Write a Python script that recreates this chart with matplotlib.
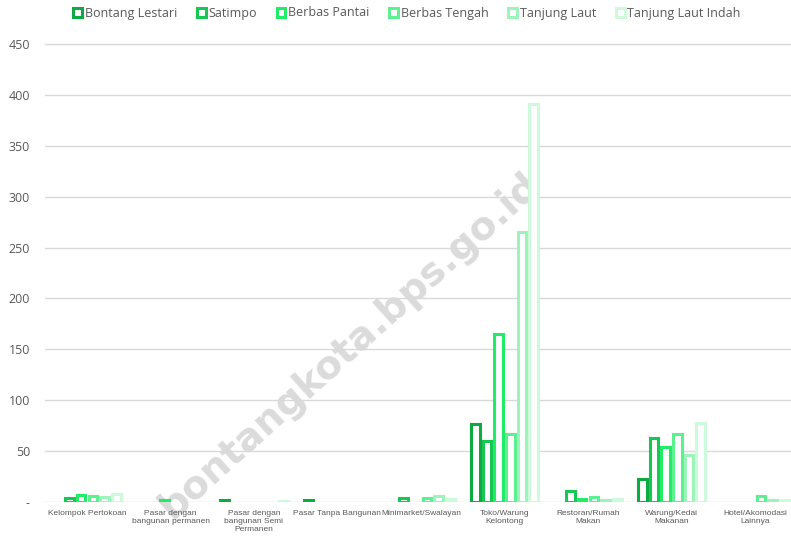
import numpy as np
import matplotlib
matplotlib.use('Agg')
import matplotlib.pyplot as plt
from matplotlib.patches import Patch
from matplotlib.ticker import FuncFormatter

# Data
categories = ['Kelompok Pertokoan', 'Pasar dengan\nbangunan permanen',
              'Pasar dengan\nbangunan Semi\nPermanen', 'Pasar Tanpa Bangunan',
              'Minimarket/Swalayan', 'Toko/Warung\nKelontong',
              'Restoran/Rumah\nMakan', 'Warung/Kedai\nMakanan',
              'Hotel/Akomodasi\nLainnya']
series = ['Bontang Lestari', 'Satimpo', 'Berbas Pantai', 'Berbas Tengah',
          'Tanjung Laut', 'Tanjung Laut Indah']
bontang_lestari = [0, 0, 2, 2, 0, 77, 0, 23, 0]
satimpo = [4, 0, 0, 0, 4, 60, 11, 63, 0]
berbas_pantai = [7, 2, 0, 0, 0, 165, 3, 54, 0]
berbas_tengah = [6, 0, 0, 0, 4, 67, 5, 67, 6]
tanjung_laut = [5, 0, 0, 0, 6, 265, 2, 46, 2]
tanjung_laut_indah = [8, 0, 1, 0, 3, 391, 3, 78, 2]
values = [bontang_lestari, satimpo, berbas_pantai, berbas_tengah,
          tanjung_laut, tanjung_laut_indah]
colors = ['#0DA943', '#17C653', '#22EB66', '#5DF090', '#9DF4BA', '#CCFADB']

W, H = 791, 540
fig = plt.figure(figsize=(W / 100, H / 100), dpi=100)
left, right, bottom, top = 45.25, 791, 502, 39
ax = fig.add_axes([left / W, 1 - bottom / H, (right - left) / W, (bottom - top) / H])
ax.patch.set_visible(False)

lw = 2.2
x = np.arange(len(categories))
bw = 0.84 / len(series)
edge = lw / 72 * 100 / 83.5  # line width in data units
for i, (vals, c) in enumerate(zip(values, colors)):
    vals = np.array(vals, dtype=float)
    m = vals > 0
    ax.bar(x[m] + (i - 2.5) * bw, vals[m], width=bw - edge, facecolor='white',
           edgecolor=c, linewidth=lw, zorder=3)

ax.set_xlim(-0.5, -0.5 + (right - left) / 83.5)
ax.set_ylim(0, 455)
ax.set_yticks(range(0, 451, 50))
ax.yaxis.set_major_formatter(FuncFormatter(lambda v, p: '-' if v == 0 else f'{int(v)}'))
ax.grid(axis='y', color='#d9d9d9', linewidth=1, zorder=0)
for s in ax.spines.values():
    s.set_visible(False)
ax.tick_params(axis='y', length=0, pad=11, labelsize=9, labelcolor='#595959')
for t in ax.get_yticklabels():
    t.set_fontfamily('Open Sans')
ax.set_xticks(x)
ax.set_xticklabels(categories, fontsize=6, color='#595959', family='Liberation Sans')
ax.tick_params(axis='x', length=0, pad=6)

handles = [Patch(facecolor='white', edgecolor=c, linewidth=lw, label=s)
           for s, c in zip(series, colors)]
fig.legend(handles=handles, loc='center', bbox_to_anchor=(407 / W, 1 - 13 / H),
           ncol=6, frameon=False, handlelength=0.7, handleheight=0.7,
           handletextpad=0.2, columnspacing=1.6,
           prop={'family': 'Open Sans', 'size': 9}, labelcolor='#595959')

# watermark
fig.text(350 / W, 1 - 345 / H, 'bontangkota.bps.go.id', rotation=42,
         ha='center', va='center', fontsize=28, fontweight='bold',
         color='#cccccc', alpha=0.7, zorder=-1)

fig.savefig('out.png', dpi=100)
